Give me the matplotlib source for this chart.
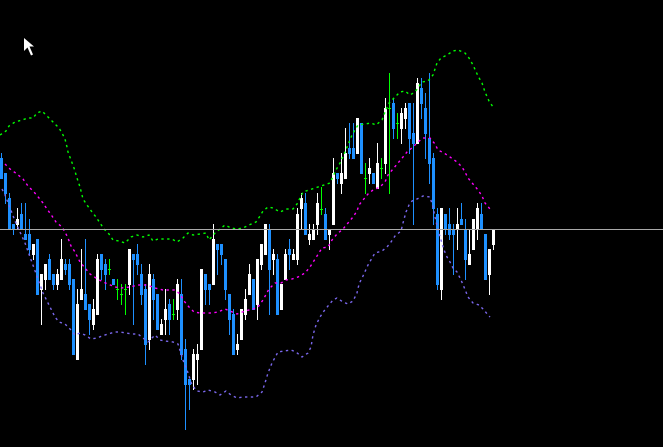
import matplotlib
matplotlib.use("Agg")
import matplotlib.pyplot as plt
from matplotlib.patches import Polygon

W, H = 663, 447
# chart scale: readings are in chart units measured from the top of the window
opens = [158,173,198,224,225,214,234,234,255,239,290,280,259,274,285,280,264,264,279,360,300,294,304,325,315,254,264,269,279,289,294,289,285,254,254,274,289,340,279,294,335,320,304,314,310,294,349,379,380,360,350,274,284,285,244,244,259,294,314,350,340,315,295,279,305,265,255,229,260,259,310,280,249,260,260,209,203,240,240,225,209,214,235,225,173,184,179,148,148,154,123,178,174,173,189,168,164,108,103,123,129,119,103,133,144,88,108,138,158,214,290,214,224,229,230,219,230,265,250,230,214,234,275,245]
closes = [179,194,229,229,219,229,240,250,244,295,274,264,280,285,274,259,270,285,355,304,289,310,320,309,259,270,275,269,285,289,294,289,249,260,265,295,345,274,300,330,324,309,320,314,284,355,385,385,354,354,269,290,290,239,250,255,290,320,355,344,309,299,274,310,259,244,224,270,254,315,284,254,255,254,214,198,235,234,229,203,209,240,229,173,179,173,153,154,159,118,174,178,168,184,163,168,108,108,129,123,113,108,139,144,83,104,134,164,209,285,208,230,235,235,224,225,260,254,219,208,230,280,249,229]
highs = [153,173,193,224,208,203,203,219,244,239,274,264,254,274,269,239,259,259,279,289,249,239,304,299,254,254,259,259,279,279,284,284,249,254,244,264,284,264,274,294,319,289,299,299,279,279,339,379,349,344,269,274,284,224,244,244,259,294,309,334,309,289,264,279,259,244,224,224,249,254,284,249,239,249,208,193,193,224,224,193,187,208,229,158,173,153,128,123,123,118,123,163,158,173,143,158,98,73,98,113,108,103,103,103,78,78,93,73,153,208,208,214,208,224,208,203,219,229,219,203,203,234,249,229]
lows = [179,204,229,235,229,229,240,255,260,295,325,290,280,290,290,270,275,290,355,360,300,310,335,330,315,280,290,275,285,300,305,315,295,325,275,305,365,350,320,330,335,335,335,320,320,360,430,410,390,385,350,305,305,285,275,265,300,335,355,355,340,320,295,310,320,270,255,315,275,315,310,280,270,260,265,230,235,245,240,235,215,240,250,225,184,194,179,159,159,154,174,194,184,184,189,179,174,194,139,139,144,129,154,225,144,119,159,184,225,290,300,235,240,275,250,225,280,265,250,240,230,280,295,250]

upper_x = [0,6,9,15,22,28,33,37,42,47,53,59,62,65,67,68,71,74,77,80,83,87,92,96,100,104,109,113,119,125,131,137,143,149,153,158,165,172,177,183,188,193,200,206,209,215,220,225,231,237,243,249,256,260,263,268,273,280,287,293,297,300,303,330,336,340,345,352,358,365,371,376,382,385,389,395,400,405,410,415,422,428,433,437,441,447,453,458,465,469,473,478,482,485,489,493]
upper_y = [135,131,126,122,120,118,118,113,111,116,122,128,133,139,147,152,160,168,178,187,199,205,212,217,223,229,234,240,241,243,237,235,237,235,241,239,239,239,242,238,233,235,234,233,240,233,229,225,228,229,228,225,222,216,211,207,208,212,209,209,204,198,192,183,170,163,152,135,125,124,123,125,120,112,103,97,92,91,95,92,82,81,75,63,58,55,51,50,53,58,65,76,83,92,101,107]
middle_x = [5,10,17,23,28,34,39,43,47,52,56,62,65,68,71,75,80,85,90,96,103,108,115,121,130,138,147,155,163,170,175,180,184,189,194,200,207,212,218,225,230,237,245,253,258,263,269,275,281,286,292,298,305,310,317,322,328,332,337,343,348,353,357,359,363,368,373,380,385,388,393,398,403,407,413,418,423,430,435,438,444,450,457,462,465,468,473,478,482,485,490]
middle_y = [164,169,174,179,186,192,198,203,209,216,222,227,232,238,246,252,262,268,274,278,282,284,287,288,287,285,285,288,290,290,290,294,301,307,312,313,313,313,312,309,311,314,311,309,307,300,289,283,283,280,279,277,273,267,256,248,247,240,234,229,223,217,211,205,200,194,190,187,182,175,169,163,157,152,147,142,138,138,144,150,153,157,162,167,172,178,184,190,196,203,209]
lower_x = [2,5,12,15,20,25,30,34,39,43,48,52,55,59,65,71,75,80,85,91,97,102,108,115,120,126,132,138,143,148,155,160,165,173,178,183,187,192,197,203,208,215,220,226,231,237,243,248,256,262,265,268,270,272,278,284,291,296,302,308,311,313,316,320,324,328,333,337,343,348,353,357,358,360,363,368,372,375,382,387,391,395,401,403,406,409,412,417,423,430,433,435,438,444,447,450,453,457,461,464,468,473,479,484,488,490]
lower_y = [189,195,213,221,232,243,257,268,282,293,303,311,317,322,324,330,335,333,335,339,338,336,334,332,332,333,334,334,338,342,335,340,341,342,344,360,370,385,391,392,390,392,395,391,395,398,397,397,397,392,383,373,368,363,352,351,350,352,357,353,347,335,325,317,311,306,300,298,302,304,301,293,288,282,276,265,258,253,251,247,242,236,231,223,212,205,201,199,196,197,207,217,230,250,257,262,268,272,280,287,297,303,305,310,315,317]
last_level = [229]

C_UP, C_DOWN, C_DOJI = "#ffffff", "#1e90ff", "#00ff00"
C_UPPER, C_MID, C_LOWER, C_LEVEL = "#00ff00", "#ff00ff", "#7b68ee", "#a9a9a9"

fig = plt.figure(figsize=(W / 100, H / 100), dpi=100, facecolor="black")
ax = fig.add_axes([0, 0, 1, 1], facecolor="black")
ax.set_xlim(0, W)
ax.set_ylim(H, 0)
ax.axis("off")

for xs, ys, c in [(upper_x, upper_y, C_UPPER), (middle_x, middle_y, C_MID), (lower_x, lower_y, C_LOWER)]:
    ax.plot(xs, ys, color=c, lw=1.0, ls=(0, (1.7, 2.5)), zorder=3)

xpos = [1.5 + 4 * i for i in range(len(opens))]
for x, o, c, h, l in zip(xpos, opens, closes, highs, lows):
    color = C_DOJI if o == c else (C_UP if c < o else C_DOWN)
    ax.bar(x, l - h, bottom=h, width=1, color=color, lw=0, antialiased=False, zorder=2)
    if o == c:
        ax.bar(x, 1, bottom=o, width=3, color=color, lw=0, antialiased=False, zorder=2)
    else:
        ax.bar(x, abs(o - c), bottom=min(o, c), width=3, color=color, lw=0, antialiased=False, zorder=2)

ax.barh(last_level[0] + 0.5, W, height=1, left=0, color=C_LEVEL, lw=0, antialiased=False, zorder=4)

# mouse pointer captured in the screenshot
ax.add_patch(Polygon([(24, 38), (24, 51), (27.5, 47.5), (31, 55.5), (33, 54.5), (29.5, 46.5), (34, 46.5)],
                     closed=True, fc="white", ec="none", zorder=5))

fig.savefig("out.png", dpi=100, facecolor="black")
